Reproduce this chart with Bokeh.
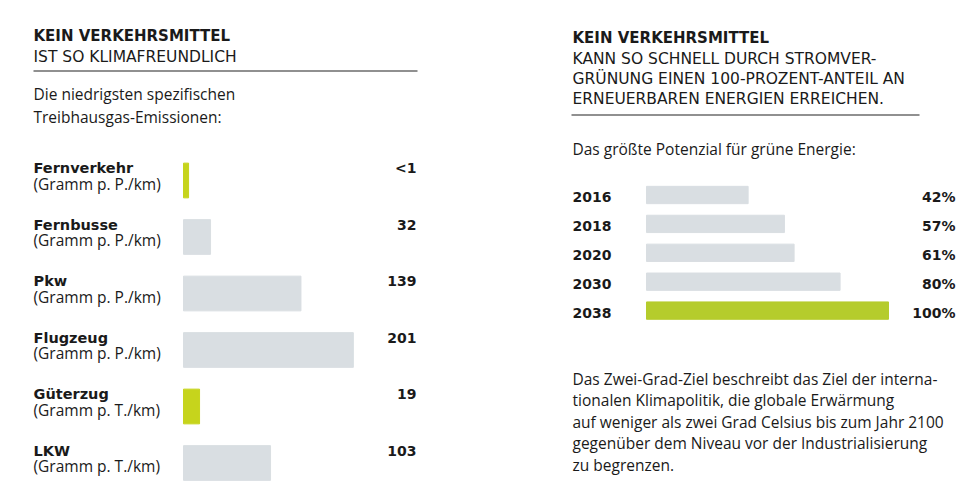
import numpy as np
from bokeh.plotting import figure
from bokeh.models import Range1d, Label, ColumnDataSource
from bokeh.core.properties import value
from bokeh.embed import file_html
from bokeh.resources import INLINE

# ---------------- data ----------------
modes = ["Fernverkehr", "Fernbusse", "Pkw", "Flugzeug", "Güterzug", "LKW"]
mode_units = ["(Gramm p. P./km)", "(Gramm p. P./km)", "(Gramm p. P./km)",
              "(Gramm p. P./km)", "(Gramm p. T./km)", "(Gramm p. T./km)"]
emissions = [1, 32, 139, 201, 19, 103]
emission_labels = ["<1", "32", "139", "201", "19", "103"]
highlight_modes = ["Fernverkehr", "Güterzug"]

years = ["2016", "2018", "2020", "2030", "2038"]
green_share = [42, 57, 61, 80, 100]
share_labels = ["42%", "57%", "61%", "80%", "100%"]
highlight_years = ["2038"]

# ---------------- layout constants ----------------
W, H = 974, 482
FONT = "Open Sans"
BFONT = "DejaVu Sans"
GREY = "#d9dee2"
GREEN_L = "#c6d41c"
GREEN_R = "#b5cc2c"
TXT = "#1a1a1a"
SHIFT = -4  # baseline correction

# left panel mapping: value 0 at px 183, 0.845 px per gram; rows at 180 + 56.5*i
L_X0, L_SC = 183.0, 0.845
L_Y0, L_DY = 180.0, 56.5
# right panel mapping: value 0 at px 646, 2.42 px per percent; rows at 194.5 + 28.9*i
R_X0, R_SC = 646.0, 2.42
R_Y0, R_DY = 194.5, 28.9

p = figure(width=W, height=H, output_backend="svg", toolbar_location=None,
           x_range=Range1d(-L_X0 / L_SC, (W - L_X0) / L_SC),
           y_range=Range1d((H - L_Y0) / L_DY, -L_Y0 / L_DY),
           x_axis_location=None, y_axis_location=None, min_border=0)
p.extra_x_ranges = {"r": Range1d(-R_X0 / R_SC, (W - R_X0) / R_SC)}
p.extra_y_ranges = {"r": Range1d((H - R_Y0) / R_DY, -R_Y0 / R_DY)}
p.outline_line_color = None
p.xgrid.visible = False
p.ygrid.visible = False
p.background_fill_color = "white"
p.border_fill_color = "white"


def label(x, y_base, text, size=15.5, bold=False, font=FONT, color=TXT):
    p.add_layout(Label(x=x, y=H - (y_base + SHIFT), x_units="screen", y_units="screen",
                       text=text, text_font=font, text_font_size=f"{size}px",
                       text_font_style="bold" if bold else "normal",
                       text_align="left", text_baseline="alphabetic",
                       text_color=color))


# ---------------- left panel ----------------
label(33, 39, "KEIN VERKEHRSMITTEL", 15, True, BFONT)
label(33, 60, "IST SO KLIMAFREUNDLICH", 15.5, False, BFONT)
label(33, 97, "Die niedrigsten spezifischen", 15.5)
label(33, 120, "Treibhausgas-Emissionen:", 15.5)

MIN_BAR = 6  # minimal visible bar length for the "<1" value
left_src = ColumnDataSource(dict(
    y=list(range(len(modes))),
    right=list(np.maximum(np.array(emissions, dtype=float), MIN_BAR)),
    mode=modes, unit=mode_units, lab=emission_labels,
    color=[GREEN_L if m in highlight_modes else GREY for m in modes],
))
p.hbar(y="y", left=0, right="right", height=0.615, color="color",
       source=left_src)
p.text(x=0, y="y", text="mode", source=left_src, x_offset=-150, y_offset=-8.5 + SHIFT,
       text_font=value(BFONT), text_font_size="14.5px", text_font_style="bold",
       text_baseline="alphabetic", text_color=TXT)
p.text(x=0, y="y", text="unit", source=left_src, x_offset=-150, y_offset=7 + SHIFT,
       text_font=value(FONT), text_font_size="15.5px",
       text_baseline="alphabetic", text_color=TXT)
p.text(x=0, y="y", text="lab", source=left_src, x_offset=416 - L_X0, y_offset=-8.5 + SHIFT,
       text_font=value(BFONT), text_font_size="14px", text_font_style="bold",
       text_align="right", text_baseline="alphabetic", text_color=TXT)

# ---------------- right panel ----------------
label(572, 41, "KEIN VERKEHRSMITTEL", 15, True, BFONT)
label(572, 62, "KANN SO SCHNELL DURCH STROMVER-", 15.5, False, BFONT)
label(572, 82, "GRÜNUNG EINEN 100-PROZENT-ANTEIL AN", 15.5, False, BFONT)
label(572, 102, "ERNEUERBAREN ENERGIEN ERREICHEN.", 15.5, False, BFONT)
label(572, 152, "Das größte Potenzial für grüne Energie:", 15.5)

right_src = ColumnDataSource(dict(
    y=list(range(len(years))), right=green_share, year=years, lab=share_labels,
    color=[GREEN_R if yv in highlight_years else GREY for yv in years],
))
p.hbar(y="y", left=0, right="right", height=0.6, color="color",
       source=right_src, x_range_name="r", y_range_name="r")
p.text(x=0, y="y", text="year", source=right_src, x_offset=572 - R_X0, y_offset=6 + SHIFT,
       text_font=value(BFONT), text_font_size="14px", text_font_style="bold",
       text_baseline="alphabetic", text_color=TXT,
       x_range_name="r", y_range_name="r")
p.text(x=0, y="y", text="lab", source=right_src, x_offset=955 - R_X0, y_offset=6 + SHIFT,
       text_font=value(BFONT), text_font_size="14px", text_font_style="bold",
       text_align="right", text_baseline="alphabetic", text_color=TXT,
       x_range_name="r", y_range_name="r")

para = ["Das Zwei-Grad-Ziel beschreibt das Ziel der interna-",
        "tionalen Klimapolitik, die globale Erwärmung",
        "auf weniger als zwei Grad Celsius bis zum Jahr 2100",
        "gegenüber dem Niveau vor der Industrialisierung",
        "zu begrenzen."]
for i, line in enumerate(para):
    label(572, 382 + 21.5 * i, line, 15.5)

# rules under the headers
p.segment(x0=-150 / L_SC, x1=(417 - L_X0) / L_SC, y0=(70.5 - L_Y0) / L_DY,
          y1=(70.5 - L_Y0) / L_DY, line_color="#222222", line_width=1.2)
p.segment(x0=(571 - R_X0) / R_SC, x1=(919 - R_X0) / R_SC, y0=(114.5 - R_Y0) / R_DY,
          y1=(114.5 - R_Y0) / R_DY, line_color="#222222", line_width=1.2,
          x_range_name="r", y_range_name="r")

open("out.html", "w").write(file_html(p, INLINE))
